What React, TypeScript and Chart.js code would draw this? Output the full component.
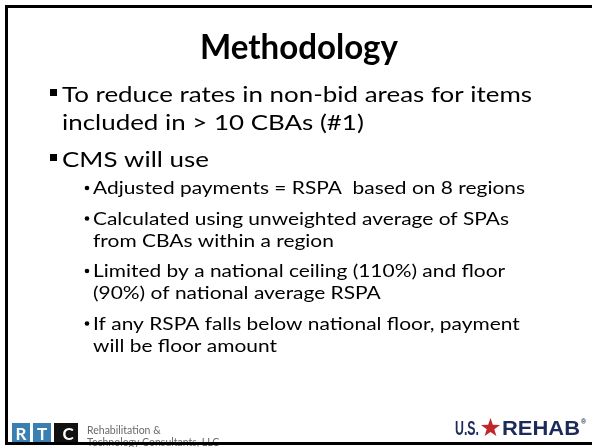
import React, { useEffect, useRef } from "react";
import { Chart, registerables } from "chart.js";

Chart.register(...registerables);

// ---- slide content ----
const TITLE = "Methodology";
const MAIN_BULLET_1 = ["To reduce rates in non-bid areas for items", "included in > 10 CBAs (#1)"];
const MAIN_BULLET_2 = ["CMS will use"];
const SUB_BULLETS = [
  ["Adjusted payments = RSPA  based on 8 regions"],
  ["Calculated using unweighted average of SPAs", "from CBAs within a region"],
  ["Limited by a national ceiling (110%) and floor", "(90%) of national average RSPA"],
  ["If any RSPA falls below national floor, payment", "will be floor amount"],
];
const RTC_LETTERS = ["R", "T", "C"];
const RTC_NAME = ["Rehabilitation &", "Technology Consultants, LLC"];
const USR_LEFT = "U.S.";
const USR_RIGHT = "REHAB";
const USR_MARK = "®";

// ---- styling / layout ----
const FONT = "Lato, 'Open Sans', sans-serif";
const W = 592;
const H = 447;

function drawScaled(ctx: CanvasRenderingContext2D, text: string, x: number, y: number, sx: number) {
  ctx.save();
  ctx.translate(x, y);
  ctx.scale(sx, 1);
  ctx.fillText(text, 0, 0);
  ctx.restore();
}

function drawStar(ctx: CanvasRenderingContext2D, cx: number, cy: number, ro: number, ri: number) {
  ctx.beginPath();
  for (let i = 0; i < 10; i++) {
    const r = i % 2 === 0 ? ro : ri;
    const a = -Math.PI / 2 + (i * Math.PI) / 5;
    const px = cx + r * Math.cos(a);
    const py = cy + r * Math.sin(a);
    if (i === 0) ctx.moveTo(px, py);
    else ctx.lineTo(px, py);
  }
  ctx.closePath();
  ctx.fill();
}

const slidePlugin = {
  id: "slide",
  beforeDraw(chart: any) {
    const ctx = chart.ctx as CanvasRenderingContext2D;
    ctx.save();
    ctx.fillStyle = "#ffffff";
    ctx.fillRect(0, 0, chart.width, chart.height);
    ctx.restore();
  },
  afterDraw(chart: any) {
    const ctx = chart.ctx as CanvasRenderingContext2D;
    ctx.save();
    ctx.textBaseline = "alphabetic";
    ctx.textAlign = "left";
    ctx.fillStyle = "#000000";

    // Title
    ctx.font = `bold 34px ${FONT}`;
    const titleW = 198;
    const tsx = titleW / ctx.measureText(TITLE).width;
    drawScaled(ctx, TITLE, 299 - titleW / 2, 59, tsx);

    // Main bullets
    ctx.font = `22px ${FONT}`;
    const msx = 470 / ctx.measureText(MAIN_BULLET_1[0]).width;
    const mainX = 62;
    const squareBullet = (baseline: number) => ctx.fillRect(50, baseline - 13, 7, 7);
    let y = 102;
    squareBullet(y);
    MAIN_BULLET_1.forEach((line, i) => {
      drawScaled(ctx, line, mainX, y, msx);
      if (i < MAIN_BULLET_1.length - 1) y += 28;
    });
    y += 37;
    squareBullet(y);
    MAIN_BULLET_2.forEach((line, i) => {
      drawScaled(ctx, line, mainX, y, msx);
      if (i < MAIN_BULLET_2.length - 1) y += 28;
    });

    // Sub bullets
    ctx.font = `18px ${FONT}`;
    const ssx = 432 / ctx.measureText(SUB_BULLETS[0][0]).width;
    const subX = 93;
    y += 27;
    SUB_BULLETS.forEach((para, pi) => {
      if (pi > 0) y += 30.5;
      ctx.beginPath();
      ctx.arc(87, y - 6, 2.3, 0, Math.PI * 2);
      ctx.fill();
      para.forEach((line, i) => {
        drawScaled(ctx, line, subX, y, ssx);
        if (i < para.length - 1) y += 22;
      });
    });

    // RTC logo
    const boxes = [
      { x: 12, w: 18, c: "#3a7fb1" },
      { x: 33, w: 18, c: "#3a7fb1" },
      { x: 54, w: 24, c: "#111111" },
    ];
    ctx.font = `bold 17px ${FONT}`;
    ctx.textAlign = "center";
    RTC_LETTERS.forEach((l, i) => {
      const b = boxes[i];
      ctx.fillStyle = b.c;
      ctx.fillRect(b.x, 423, b.w, 21);
      ctx.fillStyle = "#ffffff";
      ctx.fillText(l, b.x + b.w / 2 + (i === 2 ? 2 : 0), 440);
    });
    ctx.textAlign = "left";
    ctx.fillStyle = "#6a6a6a";
    ctx.font = `10.5px ${FONT}`;
    ctx.fillText(RTC_NAME[0], 87, 434);
    ctx.fillText(RTC_NAME[1], 87, 446);

    // U.S. REHAB logo
    ctx.fillStyle = "#1c2b5a";
    ctx.font = `bold 20px 'Liberation Sans', Arial, sans-serif`;
    const uw = ctx.measureText(USR_LEFT).width;
    drawScaled(ctx, USR_LEFT, 455, 435, 24 / uw);
    const rw = ctx.measureText(USR_RIGHT).width;
    drawScaled(ctx, USR_RIGHT, 502, 435, 78 / rw);
    ctx.font = `bold 7px 'Liberation Sans', Arial, sans-serif`;
    ctx.fillText(USR_MARK, 581, 424);
    ctx.fillStyle = "#c0272d";
    drawStar(ctx, 490.5, 428, 10, 4);

    // Slide border (right edge runs off the page)
    ctx.strokeStyle = "#000000";
    ctx.lineWidth = 3;
    ctx.strokeRect(6.5, 6.5, 600, 437);

    ctx.restore();
  },
};

export default function App() {
  const canvasRef = useRef<HTMLCanvasElement | null>(null);

  useEffect(() => {
    const canvas = canvasRef.current;
    if (!canvas) return;
    const chart = new Chart(canvas, {
      type: "bar",
      data: { labels: [], datasets: [] },
      options: {
        responsive: false,
        animation: false,
        devicePixelRatio: 1,
        events: [],
        layout: { padding: 0 },
        plugins: {
          legend: { display: false },
          tooltip: { enabled: false },
          title: { display: false },
        },
        scales: {
          x: { display: false },
          y: { display: false },
        },
      },
      plugins: [slidePlugin],
    } as any);
    return () => chart.destroy();
  }, []);

  return (
    <div style={{ position: "fixed", left: 0, top: 0, width: W, height: H, background: "#fff" }}>
      <canvas ref={canvasRef} width={W} height={H} style={{ display: "block" }} />
    </div>
  );
}
